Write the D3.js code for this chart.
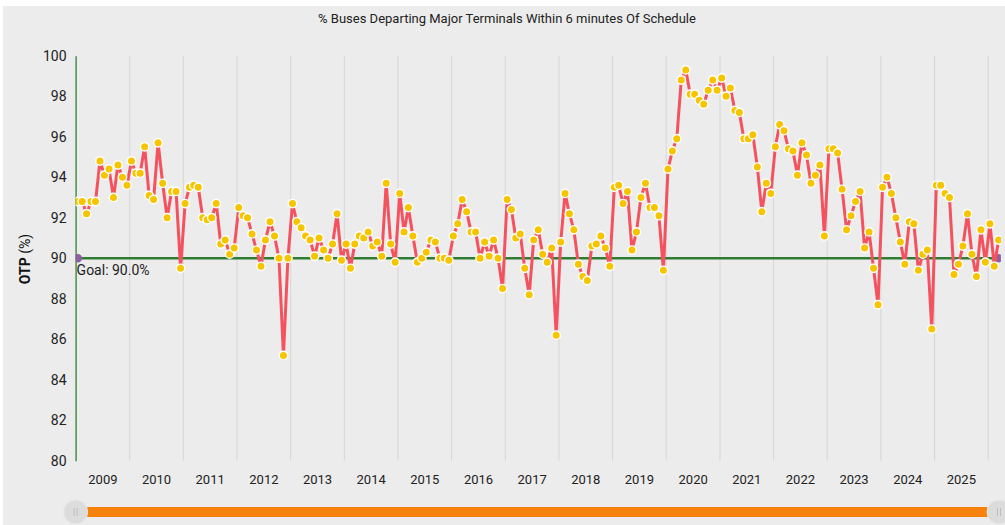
<!DOCTYPE html>
<html>
<head>
<meta charset="utf-8">
<script src="https://cdn.jsdelivr.net/npm/d3@7"></script>
<style>
  body { margin: 0; background: #fff; }
  text { font-family: Roboto, "Noto Sans", sans-serif; }
</style>
</head>
<body>
<svg id="chart" width="1005" height="525"></svg>
<script>
const TITLE = "% Buses Departing Major Terminals Within 6 minutes Of Schedule"
const Y_TITLE = ["OTP", " (%)"]
const GOAL = 90
const yTicks = [80,82,84,86,88,90,92,94,96,98,100]

//monthly OTP, one array per year, starting Jan 2009
const otp2009 = [92.8,92.8,92.2,92.8,92.8,94.8,94.1,94.4,93.0,94.6,94.0,93.6]
const otp2010 = [94.8,94.2,94.2,95.5,93.1,92.9,95.7,93.7,92.0,93.3,93.3,89.5]
const otp2011 = [92.7,93.5,93.6,93.5,92.0,91.9,92.0,92.7,90.7,90.9,90.2,90.5]
const otp2012 = [92.5,92.1,92.0,91.2,90.4,89.6,90.9,91.8,91.1,90.0,85.2,90.0]
const otp2013 = [92.7,91.8,91.5,91.1,90.9,90.1,91.0,90.4,90.0,90.7,92.2,89.9]
const otp2014 = [90.7,89.5,90.7,91.1,91.0,91.3,90.6,90.8,90.1,93.7,90.7,89.8]
const otp2015 = [93.2,91.3,92.5,91.1,89.8,90.0,90.3,90.9,90.8,90.0,90.0,89.9]
const otp2016 = [91.1,91.7,92.9,92.3,91.3,91.3,90.0,90.8,90.1,90.9,90.0,88.5]
const otp2017 = [92.9,92.4,91.0,91.2,89.5,88.2,90.9,91.4,90.2,89.8,90.5,86.2]
const otp2018 = [90.8,93.2,92.2,91.4,89.7,89.1,88.9,90.6,90.7,91.1,90.5,89.6]
const otp2019 = [93.5,93.6,92.7,93.3,90.4,91.3,93.0,93.7,92.5,92.5,92.1,89.4]
const otp2020 = [94.4,95.3,95.9,98.8,99.3,98.1,98.1,97.8,97.6,98.3,98.8,98.3]
const otp2021 = [98.9,98.0,98.4,97.3,97.2,95.9,95.9,96.1,94.5,92.3,93.7,93.2]
const otp2022 = [95.5,96.6,96.3,95.4,95.3,94.1,95.7,95.1,93.7,94.1,94.6,91.1]
const otp2023 = [95.4,95.4,95.2,93.4,91.4,92.1,92.8,93.3,90.5,91.3,89.5,87.7]
const otp2024 = [93.5,94.0,93.2,92.0,90.8,89.7,91.8,91.7,89.4,90.2,90.4,86.5]
const otp2025 = [93.6,93.6,93.2,93.0,89.2,89.7,90.6,92.2,90.2,89.1,91.4,89.8]
const otp2026 = [91.7,89.6,90.9]

const years = [2009,2010,2011,2012,2013,2014,2015,2016,2017,2018,2019,2020,2021,2022,2023,2024,2025,2026]
const otpByYear = [otp2009,otp2010,otp2011,otp2012,otp2013,otp2014,otp2015,otp2016,otp2017,otp2018,otp2019,otp2020,otp2021,otp2022,otp2023,otp2024,otp2025,otp2026]

//flatten to {date, v}
let data = []
otpByYear.forEach((arr,yi) => arr.forEach((v,m) => data.push({date: new Date(years[yi], m, 1), v})))

const W = 1005, H = 525
const L = 75.6, R = 1000.9, T = 55.7, B = 460.7

const svg = d3.select("#chart")
svg.append("rect").attr("x",3).attr("y",6).attr("width",W-3).attr("height",H-6).attr("fill","#ececec")

let start = data[0].date
let end = d3.timeMonth.offset(data[data.length-1].date, 1)
let x = d3.scaleTime().domain([start, end]).range([L, R])
let y = d3.scaleLinear().domain([80,100]).range([B, T])
//points sit in the middle of their month
let xMid = d => (x(d) + x(d3.timeMonth.offset(d,1))) / 2

//title
svg.append("text").attr("x",507).attr("y",23).attr("text-anchor","middle")
  .attr("font-size",13).attr("fill","#222").text(TITLE)

//year gridlines
let yearStarts = d3.timeYear.range(d3.timeYear.offset(start,1), end)
svg.append("g").attr("transform",`translate(0,${B})`)
  .call(d3.axisBottom(x).tickValues(yearStarts).tickSize(-(B-T)).tickFormat(""))
  .call(g => g.select(".domain").remove())
  .call(g => g.selectAll("line").attr("stroke","#d6d6d6").attr("stroke-width",1))

//year labels centred in their cell (only whole years)
let fullYears = years.filter(yr => new Date(yr+1,0,1) <= end)
svg.append("g").attr("transform",`translate(0,${B})`)
  .call(d3.axisBottom(x).tickValues(fullYears.map(yr => new Date(yr,6,2,12))).tickSize(0).tickPadding(14)
    .tickFormat(d3.timeFormat("%Y")))
  .call(g => g.select(".domain").remove())
  .call(g => g.selectAll("text").attr("font-size",13).attr("fill","#222").attr("font-family","Roboto, sans-serif"))

//y axis
svg.append("g").attr("transform",`translate(${L},0)`)
  .call(d3.axisLeft(y).tickValues(yTicks).tickSize(0).tickPadding(9))
  .call(g => g.select(".domain").attr("stroke","#3b8a3e").attr("stroke-width",1.4))
  .call(g => g.selectAll("text").attr("font-size",14).attr("fill","#222").attr("font-family","Roboto, sans-serif"))

let yt = svg.append("text").attr("transform",`translate(29.5,259) rotate(-90)`)
  .attr("text-anchor","middle").attr("font-size",14).attr("fill","#111")
yt.append("tspan").attr("font-weight","bold").text(Y_TITLE[0])
yt.append("tspan").text(Y_TITLE[1])

//plot clip
svg.append("clipPath").attr("id","plotClip").append("rect")
  .attr("x",L).attr("y",T-15).attr("width",R-L).attr("height",B-T+30)
let plot = svg.append("g").attr("clip-path","url(#plotClip)")

//goal line
let goalPts = [data[0].date, data[data.length-1].date]
plot.append("line")
  .attr("x1",xMid(goalPts[0])).attr("x2",xMid(goalPts[1]))
  .attr("y1",y(GOAL)).attr("y2",y(GOAL))
  .attr("stroke","#2e7d32").attr("stroke-width",2.6)
plot.selectAll("circle.goal").data(goalPts).enter().append("circle").attr("class","goal")
  .attr("cx",d => xMid(d)).attr("cy",y(GOAL)).attr("r",4.2).attr("fill","#8e5ea2")

//otp line
let line = d3.line().x(d => xMid(d.date)).y(d => y(d.v))
plot.append("path").datum(data).attr("d",line)
  .attr("fill","none").attr("stroke","#f4525f").attr("stroke-width",3).attr("stroke-linejoin","round")

plot.selectAll("circle.pt").data(data).enter().append("circle").attr("class","pt")
  .attr("cx",d => xMid(d.date)).attr("cy",d => y(d.v)).attr("r",4.2)
  .attr("fill","#f6c500").attr("stroke","#fff").attr("stroke-width",1.4)

//goal label
svg.append("text").attr("x",L+1).attr("y",y(GOAL)+17).attr("font-size",14).attr("fill","#222")
  .text("Goal: " + d3.format(".1f")(GOAL) + "%")

//scrollbar
svg.append("rect").attr("x",L).attr("y",507).attr("width",999-L).attr("height",10).attr("fill","#f7820b")
let grips = svg.selectAll("g.grip").data([L, 999]).enter().append("g").attr("class","grip")
  .attr("transform",d => `translate(${d},512)`)
grips.append("circle").attr("r",12).attr("fill","#dcdcdc").attr("stroke","#e8e8e8").attr("stroke-width",1)
grips.selectAll("line").data([-1.5,1.5]).enter().append("line")
  .attr("x1",d => d).attr("x2",d => d).attr("y1",-4).attr("y2",4)
  .attr("stroke","#bdbdbd").attr("stroke-width",1)
</script>
</body>
</html>
